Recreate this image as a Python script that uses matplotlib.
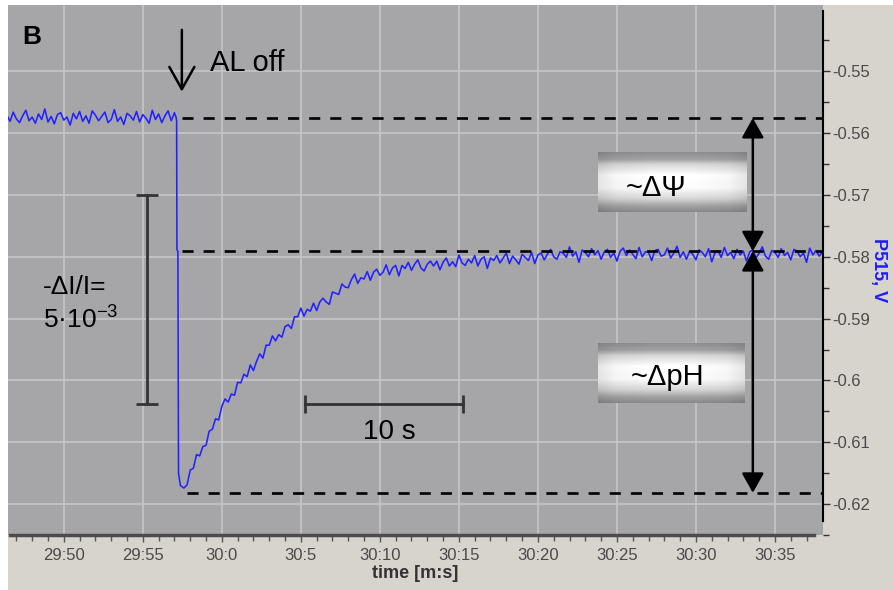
import numpy as np
import matplotlib
matplotlib.use("Agg")
import matplotlib.pyplot as plt
from matplotlib.patches import Rectangle

plt.rcParams["font.family"] = ["Liberation Sans", "DejaVu Sans"]
plt.rcParams["mathtext.fontset"] = "custom"
plt.rcParams["mathtext.rm"] = "Liberation Sans"
plt.rcParams["mathtext.it"] = "Liberation Sans:italic"
plt.rcParams["mathtext.bf"] = "Liberation Sans:bold"

# time in seconds relative to 30:00
xtick_pos = [-10, -5, 0, 5, 10, 15, 20, 25, 30, 35]
xtick_labels = ["29:50", "29:55", "30:0", "30:5", "30:10",
                "30:15", "30:20", "30:25", "30:30", "30:35"]
ytick_pos = [-0.55, -0.56, -0.57, -0.58, -0.59, -0.60, -0.61, -0.62]
ytick_labels = ["-0.55", "-0.56", "-0.57", "-0.58", "-0.59", "-0.6", "-0.61", "-0.62"]

# P515 trace
pre_start, pre_step = -13.6, 0.2
v_pre = [
    -0.5571, -0.5581, -0.5566, -0.5577, -0.5583, -0.5572, -0.5563, -0.5580, -0.5574, -0.5584,
    -0.5569, -0.5578, -0.5561, -0.5582, -0.5573, -0.5585, -0.5570, -0.5567, -0.5579, -0.5574,
    -0.5587, -0.5568, -0.5577, -0.5565, -0.5581, -0.5572, -0.5584, -0.5564, -0.5571, -0.5580,
    -0.5573, -0.5566, -0.5583, -0.5578, -0.5562, -0.5581, -0.5574, -0.5586, -0.5568, -0.5572,
    -0.5579, -0.5565, -0.5582, -0.5570, -0.5576, -0.5584, -0.5563, -0.5578, -0.5569, -0.5583,
    -0.5572, -0.5564, -0.5580, -0.5567,
]
t_drop = [-2.9, -2.86, -2.84, -2.78, -2.74, -2.62]
v_drop = [-0.5574, -0.5580, -0.5789, -0.5791, -0.6150, -0.6170]
rec_start, rec_step = -2.4, 0.2
v_rec = [
    -0.6174, -0.6169, -0.6145, -0.6142, -0.6120, -0.6122, -0.6107, -0.6105, -0.6082, -0.6079,
    -0.6062, -0.6064, -0.6042, -0.6030, -0.6035, -0.6022, -0.6024, -0.6003, -0.6004, -0.5990,
    -0.5994, -0.5975, -0.5984, -0.5969, -0.5957, -0.5964, -0.5943, -0.5943, -0.5928, -0.5936,
    -0.5926, -0.5930, -0.5913, -0.5910, -0.5916, -0.5897, -0.5897, -0.5883, -0.5896, -0.5885,
    -0.5888, -0.5875, -0.5887, -0.5873, -0.5867, -0.5873, -0.5877, -0.5857, -0.5859, -0.5861,
    -0.5844, -0.5849, -0.5850, -0.5837, -0.5828, -0.5843, -0.5834, -0.5836, -0.5824, -0.5838,
    -0.5825, -0.5820, -0.5830, -0.5825, -0.5813, -0.5829, -0.5818, -0.5814, -0.5831, -0.5814,
    -0.5819, -0.5809, -0.5822, -0.5812, -0.5805, -0.5818, -0.5823, -0.5812, -0.5807, -0.5815,
    -0.5807, -0.5821, -0.5809, -0.5802, -0.5815, -0.5808, -0.5816, -0.5797, -0.5810, -0.5814,
    -0.5804, -0.5810, -0.5798, -0.5815, -0.5804, -0.5800, -0.5819, -0.5802, -0.5806, -0.5798,
    -0.5810, -0.5802, -0.5794, -0.5811, -0.5799, -0.5805, -0.5812, -0.5796, -0.5801, -0.5806,
    -0.5793, -0.5811, -0.5797, -0.5794, -0.5805, -0.5796, -0.5788, -0.5800, -0.5804, -0.5792,
    -0.5794, -0.5801, -0.5784, -0.5799, -0.5792, -0.5809, -0.5789, -0.5793, -0.5800, -0.5787,
    -0.5797, -0.5790, -0.5804, -0.5792, -0.5788, -0.5801, -0.5794, -0.5807, -0.5791, -0.5786,
    -0.5798, -0.5789, -0.5796, -0.5803, -0.5785, -0.5800, -0.5792, -0.5793, -0.5806, -0.5790,
    -0.5788, -0.5799, -0.5797, -0.5786, -0.5802, -0.5794, -0.5783, -0.5801, -0.5792, -0.5804,
    -0.5791, -0.5796, -0.5805, -0.5789, -0.5793, -0.5800, -0.5787, -0.5808, -0.5794, -0.5790,
    -0.5801, -0.5785, -0.5798, -0.5793, -0.5803, -0.5788, -0.5797, -0.5791, -0.5807, -0.5792,
    -0.5789, -0.5802, -0.5794, -0.5784, -0.5799, -0.5804, -0.5790, -0.5793, -0.5801, -0.5787,
    -0.5798, -0.5793, -0.5805, -0.5788, -0.5791, -0.5800, -0.5794, -0.5809, -0.5786, -0.5797,
    -0.5790, -0.5799, -0.5792,
]

# reference levels (dashed lines)
level_light = -0.55757
level_dark = -0.57909
level_min = -0.61817

t_pre = pre_start + pre_step * np.arange(len(v_pre))
t_rec = rec_start + rec_step * np.arange(len(v_rec))
t = np.concatenate([t_pre, t_drop, t_rec])
v = np.concatenate([v_pre, v_drop, v_rec])

fig = plt.figure(figsize=(8.93, 5.90), dpi=100, facecolor="white")
fig.add_artist(Rectangle((8 / 893, 0), 1, 1 - 5 / 590, transform=fig.transFigure,
                         facecolor="#d7d4ce", edgecolor="none", zorder=-5))
ax = fig.add_axes([8 / 893, 55 / 590, 815 / 893, 530 / 590])
ax.set_facecolor("#a6a6a9")

ax.plot(t, v, color="#2222ff", lw=1.15, zorder=3)

dash = dict(color="black", lw=1.9, dashes=(4.2, 3.8), zorder=4)
ax.plot([-2.5, 38.1], [level_light, level_light], **dash)
ax.plot([-2.5, 38.1], [level_dark, level_dark], **dash)
ax.plot([-2.2, 38.1], [level_min, level_min], **dash)

# double arrows
arr = dict(arrowstyle="<|-|>,head_length=0.8,head_width=0.45", mutation_scale=15,
           lw=1.8, color="black", shrinkA=0, shrinkB=0)
ax.annotate("", xy=(33.6, level_light), xytext=(33.6, level_dark), arrowprops=arr, zorder=5)
ax.annotate("", xy=(33.6, level_dark), xytext=(33.6, level_min), arrowprops=arr, zorder=5)

# "AL off" arrow
ax.annotate("", xy=(-2.53, -0.5533), xytext=(-2.53, -0.5433),
            arrowprops=dict(arrowstyle="->,head_length=0.8,head_width=0.45",
                            mutation_scale=20, lw=1.8, color="black",
                            shrinkA=0, shrinkB=0))
ax.text(-0.74, -0.5486, "AL off", fontsize=21, ha="left", va="center")
ax.text(0.018, 0.94, "B", transform=ax.transAxes, fontsize=19, fontweight="bold",
        ha="left", va="center")

# gradient boxes
yy = np.linspace(0, 1, 80)[:, None]
xx = np.linspace(0, 1, 160)[None, :]
vert = np.interp(yy, [0, 0.12, 0.2, 0.38, 0.6, 0.78, 0.9, 1.0],
                 [0.56, 0.64, 0.84, 1.0, 0.99, 0.84, 0.64, 0.54])
horiz = np.interp(xx, [0, 0.12, 0.35, 0.65, 0.88, 1.0], [0.9, 0.97, 1.0, 1.0, 0.97, 0.9])
grad = vert * horiz
for (x0, x1, y0, y1), label, tx, ty in [
        ((23.8, 33.2, -0.5728, -0.5631), "~ΔΨ", 27.5, -0.5689),
        ((23.8, 33.1, -0.6037, -0.5940), "~ΔpH", 28.2, -0.5994)]:
    ax.imshow(grad, extent=(x0, x1, y0, y1), origin="upper", cmap="gray",
              vmin=0, vmax=1, aspect="auto", interpolation="bilinear", zorder=4)
    ax.text(tx, ty, label, fontsize=21, ha="center", va="center", zorder=6)

# scale bars
bar = dict(color="#333333", lw=2, zorder=4)
ax.plot([-4.73, -4.73], [-0.57006, -0.60374], **bar)
ax.plot([-4.73, -4.73], [-0.57006, -0.60374], ls="none", marker="_", ms=16, mew=2,
        color="#333333", zorder=4)
ax.text(-11.3, -0.5849, "-ΔI/I=", fontsize=19, ha="left", va="center")
ax.text(-11.3, -0.5902, r"5·10$^{\mathregular{-3}}$", fontsize=19, ha="left", va="center")

ax.plot([5.27, 15.27], [-0.60374, -0.60374], **bar)
ax.plot([5.27, 15.27], [-0.60374, -0.60374], ls="none", marker="|", ms=13, mew=2,
        color="#333333", zorder=4)
ax.text(10.6, -0.6084, "10 s", fontsize=20, ha="center", va="center")

# axes styling
ax.set_xlim(-13.53, 38.04)
ax.set_ylim(-0.62467, -0.53928)
ax.set_xticks(xtick_pos)
ax.set_xticklabels(xtick_labels)
ax.set_xticks(np.arange(-13, 38), minor=True)
ax.set_yticks(ytick_pos)
ax.set_yticklabels(ytick_labels)
ax.set_yticks(np.arange(-0.625, -0.54, 0.005), minor=True)
ax.yaxis.tick_right()
ax.yaxis.set_label_position("right")
ax.grid(True, which="major", color="#c6c6c9", lw=1.2)
ax.set_axisbelow(True)

for s in ["left", "top"]:
    ax.spines[s].set_visible(False)
ax.spines["bottom"].set_color("#4c4c4c")
ax.spines["bottom"].set_linewidth(2.5)
ax.spines["bottom"].set_bounds(-13.4, 37.5)
ax.spines["right"].set_color("black")
ax.spines["right"].set_linewidth(1.5)
ax.spines["right"].set_bounds(-0.6227, -0.5403)

ax.tick_params(axis="x", which="major", length=5, width=1, color="#555555",
               labelsize=12, labelcolor="#4a4a4a", pad=4)
ax.tick_params(axis="x", which="minor", length=4, width=1, color="#555555")
ax.tick_params(axis="y", which="major", length=5, width=1, color="#333333",
               labelsize=12, labelcolor="#4a4a4a", pad=2)
ax.tick_params(axis="y", which="minor", length=4, width=1, color="#333333")

ax.set_xlabel("time [m:s]", fontsize=13, fontweight="bold", color="#333333", labelpad=2)
ax.set_ylabel("P515, V", fontsize=13, fontweight="bold", color="#1c1cff",
              rotation=270, labelpad=12)

fig.savefig("out.png", dpi=100, facecolor=fig.get_facecolor())
